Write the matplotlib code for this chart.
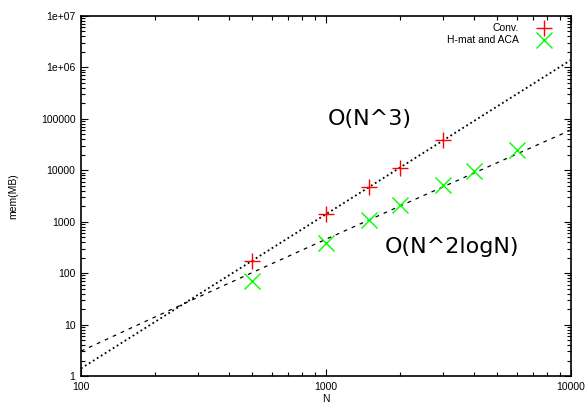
import matplotlib
matplotlib.use('Agg')
import matplotlib.pyplot as plt
import numpy as np
from matplotlib.ticker import LogLocator, NullFormatter, FixedLocator, FixedFormatter

# measured memory usage
n_conv = [500, 1000, 1500, 2000, 3000]
mem_conv = [175, 1400, 4700, 11000, 39000]

n_hmat = [500, 1000, 1500, 2000, 3000, 4000, 6000]
mem_hmat = [71, 380, 1080, 2080, 5200, 9800, 24700]

# fitted model coefficients
c_cube = 1.4e-6      # c * N^3
c_nlog = 6.6e-5      # c * N^2 log N

xticks = [100, 1000, 10000]
xlabels = ['100', '1000', '10000']
yticks = [1, 10, 100, 1000, 10000, 100000, 1e6, 1e7]
ylabels = ['1', '10', '100', '1000', '10000', '100000', '1e+06', '1e+07']

fn = 'Liberation Sans'

fig = plt.figure(figsize=(5.88, 4.07), dpi=100)
ax = fig.add_axes([81/588, 31/407, 490/588, 360/407])

nn = np.logspace(2, 4, 300)
ax.plot(nn, c_cube*nn**3, color='black', lw=1.3, linestyle=(0, (1, 1.6)))
ax.plot(nn, c_nlog*nn**2*np.log(nn), color='black', lw=0.9, linestyle=(0, (3, 4)))

ax.plot(n_conv, mem_conv, '+', color='#ff0000', ms=11, mew=1, label='Conv.', linestyle='none')
ax.plot(n_hmat, mem_hmat, 'x', color='#00ff00', ms=11, mew=1, label='H-mat and ACA', linestyle='none')

ax.set_xscale('log')
ax.set_yscale('log')
ax.set_xlim(100, 10000)
ax.set_ylim(1, 1e7)

ax.xaxis.set_major_locator(FixedLocator(xticks))
ax.xaxis.set_major_formatter(FixedFormatter(xlabels))
ax.yaxis.set_major_locator(FixedLocator(yticks))
ax.yaxis.set_major_formatter(FixedFormatter(ylabels))
ax.xaxis.set_minor_locator(LogLocator(base=10, subs=np.arange(2, 10)))
ax.yaxis.set_minor_locator(LogLocator(base=10, subs=np.arange(2, 10), numticks=20))
ax.xaxis.set_minor_formatter(NullFormatter())
ax.yaxis.set_minor_formatter(NullFormatter())

ax.tick_params(which='both', direction='in', top=True, right=True, labelsize=7.5, width=0.8)
ax.tick_params(which='major', length=5, pad=4)
ax.tick_params(which='minor', length=3)
for lab in ax.get_xticklabels() + ax.get_yticklabels():
    lab.set_fontfamily(fn)
for s in ax.spines.values():
    s.set_linewidth(1.2)

ax.set_xlabel('N', fontsize=7.5, fontfamily=fn, labelpad=2)
ax.set_ylabel('mem(MB)', fontsize=7.5, fontfamily=fn, labelpad=16)

ax.text(1515, 1e5, 'O(N^3)', fontsize=16, ha='center', va='center')
ax.text(3270, 320, 'O(N^2logN)', fontsize=16, ha='center', va='center')

leg = ax.legend(loc='upper right', bbox_to_anchor=(0.975, 1.0), frameon=False, markerfirst=False,
                prop={'family': fn, 'size': 7.5},
                handletextpad=1.6, borderaxespad=0.3, labelspacing=0.2, handlelength=1.5)

plt.savefig('out.png', dpi=100)
